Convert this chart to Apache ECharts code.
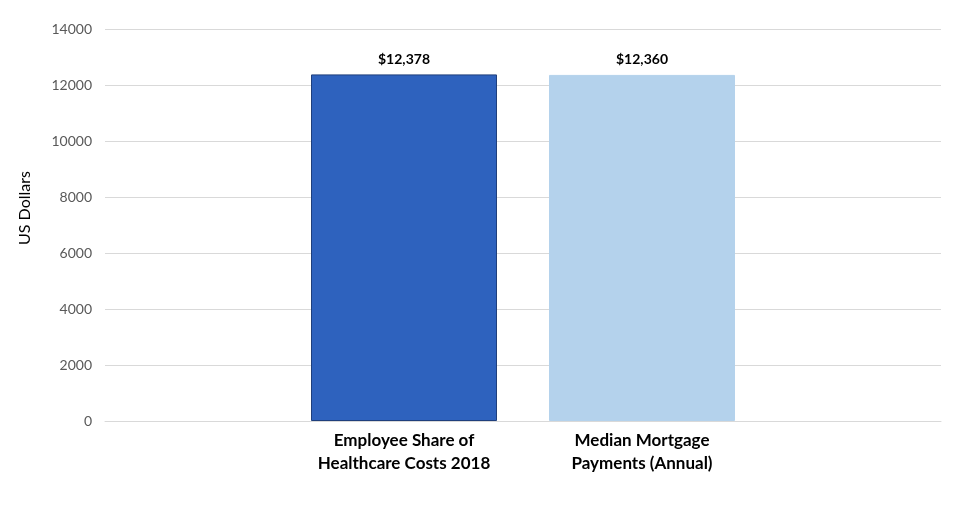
<!DOCTYPE html>
<html>
<head>
<meta charset="utf-8">
<script src="https://cdn.jsdelivr.net/npm/echarts@6/dist/echarts.min.js"></script>
<style>html,body{margin:0;padding:0;background:#fff}#c{width:973px;height:506px}</style>
</head>
<body>
<div id="c"></div>
<script>
const categories = ['Employee Share of\nHealthcare Costs 2018', 'Median Mortgage\nPayments (Annual)'];
const values = [12378, 12360];
const valueLabels = ['$12,378', '$12,360'];
const yMin = 0, yMax = 14000, yInterval = 2000;
const yAxisTitle = 'US Dollars';

const colors = ['#2E62BE', '#B4D2EC'];
const borders = ['#1F3F7C', '#B4D2EC'];
const font = 'Lato, "Open Sans", sans-serif';

const chart = echarts.init(document.getElementById('c'), null, {renderer: 'canvas'});
chart.setOption({
  animation: false,
  backgroundColor: '#fff',
  grid: [
    {left: 105, right: 32, top: 29, bottom: 85},
    {left: 285, right: 212, top: 29, bottom: 85}
  ],
  xAxis: [
    {gridIndex: 0, type: 'category', data: [''], axisLine: {show: true, lineStyle: {color: '#D9D9D9'}}, axisTick: {show: false}, axisLabel: {show: false}},
    {gridIndex: 1, type: 'category', data: categories, axisLine: {show: false}, axisTick: {show: false},
      axisLabel: {interval: 0, margin: 8, fontFamily: font, fontWeight: 'bold', fontSize: 17, color: '#000', lineHeight: 23}}
  ],
  yAxis: [
    {gridIndex: 0, type: 'value', min: yMin, max: yMax, interval: yInterval,
      name: yAxisTitle, nameLocation: 'middle', nameGap: 72, nameRotate: 90,
      nameTextStyle: {fontFamily: font, fontSize: 16, color: '#000', padding: [0, 0, 0, 34]},
      axisLine: {show: false}, axisTick: {show: false},
      axisLabel: {fontFamily: font, fontSize: 14, color: '#595959', margin: 13, formatter: v => String(v)},
      splitLine: {lineStyle: {color: '#D9D9D9'}}},
    {gridIndex: 1, type: 'value', min: yMin, max: yMax, interval: yInterval, show: false, splitLine: {show: false}}
  ],
  series: [{
    type: 'bar', xAxisIndex: 1, yAxisIndex: 1, barWidth: 186,
    data: values.map((v, i) => ({value: v, itemStyle: {color: colors[i], borderColor: borders[i], borderWidth: 1}})),
    label: {show: true, position: 'top', distance: 8, fontFamily: font, fontWeight: 'bold', fontSize: 14, color: '#000',
      formatter: p => valueLabels[p.dataIndex]}
  }]
});
</script>
</body>
</html>
